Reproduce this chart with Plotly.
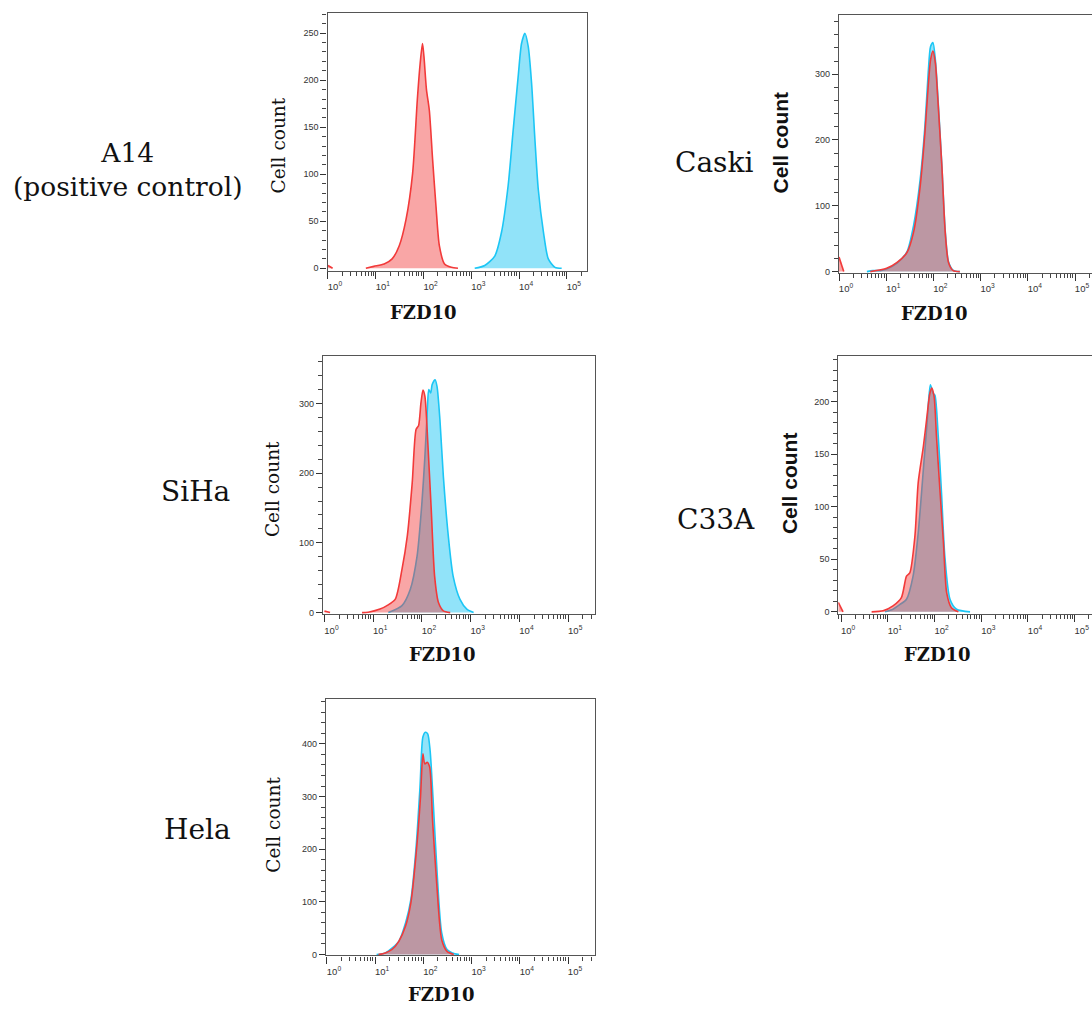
import plotly.graph_objects as go

# ---------------- data ----------------
# A14 (positive control)  (None separates the small spike at the left edge)
A14_RED_X = [1.0, 1.25, None, 6.2, 9.1, 15, 22, 31, 43, 59, 74, 85, 95, 102, 115, 132, 155, 182, 214, 275, 380, 525]
A14_RED_Y = [3, 0, None, 0, 2, 4.5, 10, 24, 52, 101, 179, 218, 239, 225, 190, 168, 115, 66, 24, 4.5, 1, 0]
A14_CYAN_X = [1175, 1905, 3090, 4265, 5890, 7410, 9550, 11220, 13180, 15490, 18200, 21380, 25120, 32360, 40740, 56230, 77620]
A14_CYAN_Y = [0, 3, 13, 38, 88, 144, 204, 239, 250, 236, 197, 137, 84, 38, 10, 1, 0]

# Caski
CASKI_RED_X = [1.0, 1.26, None, 4.6, 10.2, 17.0, 27.5, 38.0, 52.5, 66.1, 77.6, 87.1, 97.7, 110, 123, 151, 178, 209, 263, 363]
CASKI_RED_Y = [22, 0, None, 0, 5, 14, 29, 60, 130, 211, 282, 322, 335, 317, 267, 161, 60, 14, 1.5, 0]
CASKI_CYAN_X = [3.9, 5.2, 7.5, 10.2, 17.0, 27.5, 38.0, 52.5, 66.1, 77.6, 87.1, 97.7, 110, 123, 151, 178, 209, 263, 363]
CASKI_CYAN_Y = [0, 1.5, 1.5, 4, 13, 30, 70, 140, 221, 302, 342, 348, 322, 272, 161, 62, 15, 2, 0]

# SiHa
SIHA_RED_X = [1.0, 1.3, None, 5.9, 7.9, 13.8, 19.1, 28.2, 38.9, 50.1, 63.1, 75.9, 85.1, 95.5, 105, 115, 132, 155, 182, 219, 275, 380]
SIHA_RED_Y = [2.4, 0, None, 0, 0.5, 5, 10, 19, 62, 110, 186, 263, 268, 301, 319, 310, 243, 148, 52, 14, 2.4, 0]
SIHA_CYAN_X = [20.4, 38.9, 57.5, 79.4, 100, 115, 129, 138, 151, 162, 186, 204, 234, 275, 347, 437, 603, 832, 1148]
SIHA_CYAN_Y = [0, 10, 33, 81, 158, 224, 291, 320, 315, 327, 334, 324, 276, 195, 110, 52, 19, 5, 0]

# C33A
C33A_RED_X = [0.87, 1.1, None, 4.5, 7.9, 12.9, 19.5, 25.1, 29.5, 38.0, 44.7, 57.5, 67.6, 79.4, 87.1, 97.7, 110, 129, 155, 182, 229, 324]
C33A_RED_Y = [9, 0, None, 0, 1, 5.7, 13.6, 34, 37, 72, 123, 157, 183, 208, 213, 205, 167, 119, 66, 18, 4, 0]
C33A_CYAN_X = [8.7, 12.9, 18.2, 25.1, 34.7, 44.7, 57.5, 69.2, 81.3, 93.3, 102, 120, 141, 166, 214, 295, 575]
C33A_CYAN_Y = [0, 2.5, 7, 12, 34, 75, 135, 180, 216, 208, 206, 167, 113, 53, 12, 2.5, 0]

# Hela
HELA_RED_X = [11.7, 16.2, 22.4, 30.9, 42.7, 55.0, 70.8, 87.1, 97.7, 107, 120, 135, 155, 191, 240, 309, 427]
HELA_RED_Y = [0, 3, 9.5, 25, 54, 98, 192, 299, 381, 362, 365, 356, 255, 129, 28, 6, 0]
HELA_CYAN_X = [10.7, 16.2, 30.9, 42.7, 55.0, 70.8, 85.1, 97.7, 110, 123, 138, 158, 191, 240, 309, 398, 550]
HELA_CYAN_Y = [0, 3, 25, 60, 104, 205, 318, 413, 422, 419, 387, 299, 161, 41, 9.5, 3, 0]

ROW_LABELS = ["A14<br>(positive control)", "Caski", "SiHa", "C33A", "Hela"]
X_TITLE = "FZD10"
Y_TITLE = "Cell count"
X_TICKVALS = [1, 10, 100, 1000, 10000, 100000]
X_TICKTEXT = ["10<sup>0</sup>", "10<sup>1</sup>", "10<sup>2</sup>", "10<sup>3</sup>", "10<sup>4</sup>", "10<sup>5</sup>"]

# ---------------- layout / styling ----------------
W, H = 1092, 1009
RED_LINE = "rgb(242,58,58)"
RED_FILL = "rgba(242,58,58,0.45)"
CYAN_LINE = "rgb(28,198,245)"
CYAN_FILL = "rgba(0,190,240,0.43)"

panels = [
    dict(red=(A14_RED_X, A14_RED_Y), cyan=(A14_CYAN_X, A14_CYAN_Y),
         box=(327.5, 587, 13.3, 271.7), xr=[-0.01, 5.42], yr=[-2.5, 271.2], dt=50, mdt=10,
         label=(127, 170, 26.5), ylab=(278, 146, False), xlab=(423, 314), right=True),
    dict(red=(CASKI_RED_X, CASKI_RED_Y), cyan=(CASKI_CYAN_X, CASKI_CYAN_Y),
         box=(839, 1092, 15, 274), xr=[0.0, 5.36], yr=[-2, 390], dt=100, mdt=20,
         label=(714, 163, 28), ylab=(780, 143, True), xlab=(934, 315), right=False),
    dict(red=(SIHA_RED_X, SIHA_RED_Y), cyan=(SIHA_CYAN_X, SIHA_CYAN_Y),
         box=(323, 595, 357.7, 616.7), xr=[-0.03, 5.55], yr=[-2.4, 367.6], dt=100, mdt=20,
         label=(195, 493, 28), ylab=(272, 491, False), xlab=(442, 657), right=True),
    dict(red=(C33A_RED_X, C33A_RED_Y), cyan=(C33A_CYAN_X, C33A_CYAN_Y),
         box=(838.3, 1092, 357.7, 616.7), xr=[-0.06, 5.37], yr=[-2.3, 243.2], dt=50, mdt=10,
         label=(716, 522, 28), ylab=(789, 485, True), xlab=(938, 657), right=False),
    dict(red=(HELA_RED_X, HELA_RED_Y), cyan=(HELA_CYAN_X, HELA_CYAN_Y),
         box=(326, 595, 701.7, 959.3), xr=[-0.02, 5.56], yr=[-1.9, 485.4], dt=100, mdt=20,
         label=(197, 833, 28), ylab=(274, 828, False), xlab=(441, 998), right=True),
]

fig = go.Figure()
annotations = []
layout_axes = {}

for i, p in enumerate(panels):
    n = i + 1
    xa = "x" if n == 1 else f"x{n}"
    ya = "y" if n == 1 else f"y{n}"
    fig.add_trace(go.Scatter(x=p["cyan"][0], y=p["cyan"][1], xaxis=xa, yaxis=ya, mode="lines",
                             line=dict(color=CYAN_LINE, width=1.6, shape="spline", smoothing=0.7),
                             fill="tozeroy", fillcolor=CYAN_FILL, showlegend=False, hoverinfo="skip",
                             connectgaps=False))
    fig.add_trace(go.Scatter(x=p["red"][0], y=p["red"][1], xaxis=xa, yaxis=ya, mode="lines",
                             line=dict(color=RED_LINE, width=1.6, shape="spline", smoothing=0.7),
                             fill="tozeroy", fillcolor=RED_FILL, showlegend=False, hoverinfo="skip",
                             connectgaps=False))
    l, r, t, b = p["box"]
    xkey = "xaxis" if n == 1 else f"xaxis{n}"
    ykey = "yaxis" if n == 1 else f"yaxis{n}"
    layout_axes[xkey] = dict(
        domain=[l / W, min(r / W, 1.0)], anchor=ya, type="log", range=p["xr"],
        tickmode="array", tickvals=X_TICKVALS, ticktext=X_TICKTEXT,
        ticks="outside", ticklen=7, tickwidth=1.4, tickcolor="#333",
        minor=dict(ticks="outside", ticklen=4, tickwidth=1, tickcolor="#444", dtick="D1"),
        showline=True, linecolor="#555", linewidth=1.2, mirror=True,
        showgrid=False, zeroline=False, ticklabelshift=7, fixedrange=True,
        tickfont=dict(family="Liberation Sans", size=9.5, color="#333"),
    )
    layout_axes[ykey] = dict(
        domain=[1 - b / H, 1 - t / H], anchor=xa, range=p["yr"],
        tickmode="linear", tick0=0, dtick=p["dt"],
        ticks="outside", ticklen=6, tickwidth=1.3, tickcolor="#333",
        minor=dict(ticks="outside", ticklen=4, tickwidth=1, tickcolor="#444", dtick=p["mdt"], tick0=0),
        showline=True, linecolor="#555", linewidth=1.2, mirror=p["right"],
        showgrid=False, zeroline=False, fixedrange=True,
        tickfont=dict(family="Liberation Sans", size=9, color="#333"),
    )
    lx, ly, lsz = p["label"]
    annotations.append(dict(text=ROW_LABELS[i], x=lx / W, y=1 - ly / H, xref="paper", yref="paper",
                            showarrow=False, xanchor="center", yanchor="middle",
                            font=dict(family="DejaVu Serif", size=lsz, color="#111")))
    yx, yy, bold = p["ylab"]
    if bold:
        yfont = dict(family="Liberation Sans", size=21, color="#111", weight="bold")
    else:
        yfont = dict(family="DejaVu Serif", size=18.5, color="#111")
    annotations.append(dict(text=Y_TITLE, x=yx / W, y=1 - yy / H, xref="paper", yref="paper",
                            showarrow=False, textangle=-90, xanchor="center", yanchor="middle",
                            font=yfont))
    xx, xy = p["xlab"]
    annotations.append(dict(text=X_TITLE, x=xx / W, y=1 - xy / H, xref="paper", yref="paper",
                            showarrow=False, xanchor="center", yanchor="middle",
                            font=dict(family="DejaVu Serif", size=18, color="#111", weight="bold")))

fig.update_layout(
    width=W, height=H, margin=dict(l=0, r=0, t=0, b=0),
    paper_bgcolor="white", plot_bgcolor="white",
    annotations=annotations, **layout_axes,
)

fig.write_html("out.html", config={"displayModeBar": False},
               post_script="document.body.style.margin='0';document.body.style.padding='0';")
